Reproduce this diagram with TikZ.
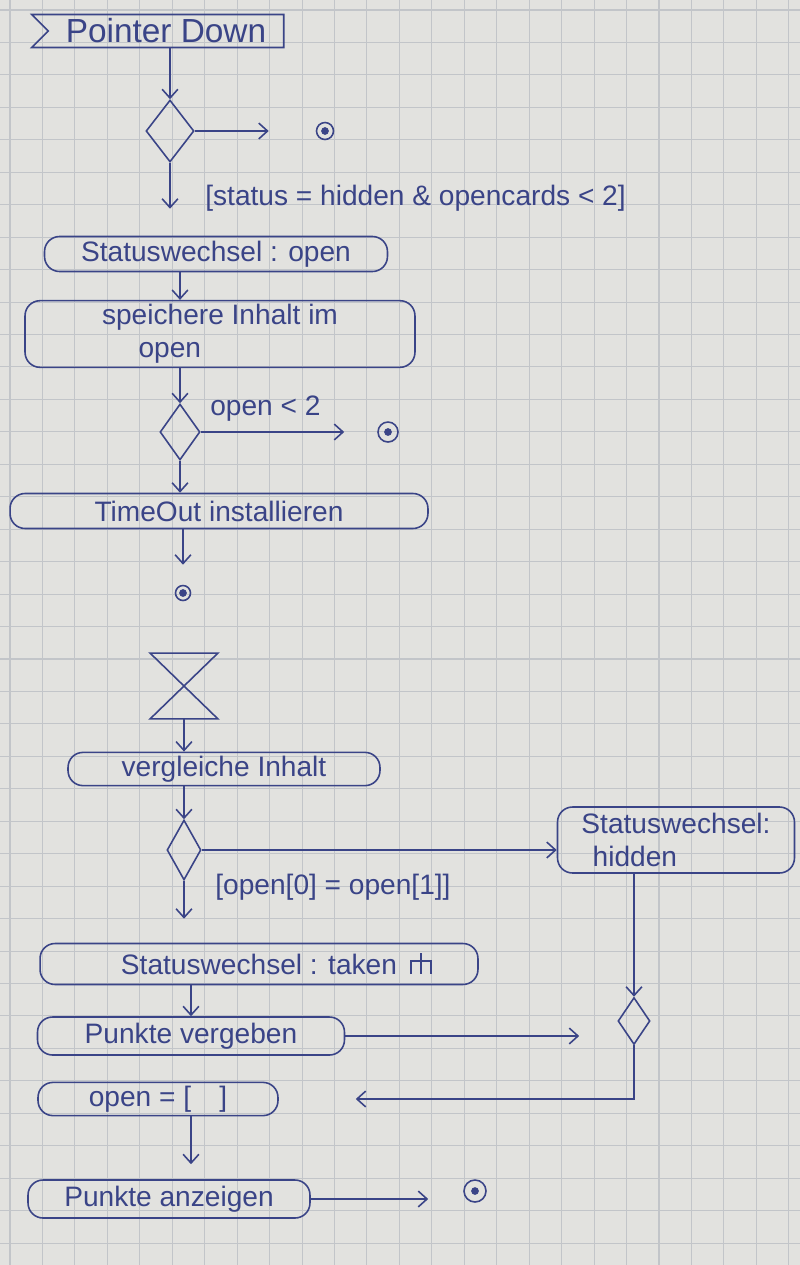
\documentclass[tikz,border=0pt]{standalone}
\usepackage{fontspec}
\setmainfont{Liberation Sans}
\usetikzlibrary{shapes.geometric,shapes.symbols,arrows.meta}
\definecolor{ink}{RGB}{58,68,135}
\definecolor{paper}{RGB}{226,226,223}
\definecolor{gridgray}{RGB}{194,197,201}

\begin{document}
\begin{tikzpicture}[x=0.02cm,y=-0.02cm,
  >={Straight Barb[length=5pt,width=9pt]},
  act/.style={rectangle, draw=ink, line width=0.9pt, rounded corners=0.3cm, text=ink, font=\fontsize{16}{19}\selectfont, inner sep=2pt},
  choice/.style={diamond, draw=ink, line width=0.9pt, inner sep=0pt},
  endnode/.style={circle, draw=ink, line width=0.9pt, inner sep=0pt, path picture={\fill[ink] (path picture bounding box.center) circle (2.2pt);}},
  flow/.style={->, draw=ink, line width=0.9pt},
  guard/.style={text=ink, font=\fontsize{16}{19}\selectfont, inner sep=0pt, anchor=west},
  gridline/.style={gridgray, line width=0.6pt}]

 \useasboundingbox (0,0) rectangle (800,1265);
 \fill[paper] (0,0) rectangle (800,1265);
 \foreach \k in {0,...,24}
   \draw[gridline] (10+32.45*\k,0) -- (10+32.45*\k,1265);
 \foreach \k in {0,...,38}
   \draw[gridline] (0,10+32.45*\k) -- (800,10+32.45*\k);

 % signal + first choice
 \node[signal, signal from=west, signal to=nowhere, draw=ink, line width=0.9pt, text=ink,
       font=\fontsize{19}{22}\selectfont, minimum width=5.04cm, minimum height=0.66cm, inner sep=0pt]
       (pd) at (166,31) {Pointer Down};
 \node[choice, minimum width=0.96cm, minimum height=1.24cm] (d1) at (170,131) {};
 \node[endnode, minimum size=0.34cm] (f1) at (325,131) {};

 \node[act, minimum width=6.86cm, minimum height=0.7cm] (st1) at (216,254) {Statuswechsel : open};
 \node[act, minimum width=7.8cm, minimum height=1.32cm, align=left] (sp) at (220,334) {speichere Inhalt im\\\hspace{1.3em}open};

 \node[choice, minimum width=0.8cm, minimum height=1.12cm] (d2) at (180,432) {};
 \node[endnode, minimum size=0.4cm] (f2) at (388,432) {};

 \node[act, minimum width=8.36cm, minimum height=0.7cm] (to) at (219,511) {TimeOut installieren};
 \node[endnode, minimum size=0.3cm] (f3) at (183,593) {};

 % time event
 \node[minimum width=1.34cm, minimum height=1.3cm, inner sep=0pt] (hg) at (184,686) {};
 \draw[ink, line width=0.9pt] (hg.north west) -- (hg.north east) -- (hg.south west) -- (hg.south east) -- cycle;

 \node[act, minimum width=6.24cm, minimum height=0.66cm] (vi) at (224,769) {vergleiche Inhalt};
 \node[choice, minimum width=0.68cm, minimum height=1.2cm] (d3) at (184,850) {};
 \node[act, minimum width=4.74cm, minimum height=1.32cm, align=left] (sh) at (676,840) {Statuswechsel:\\\hspace{0.4em}hidden};

 \node[act, minimum width=8.76cm, minimum height=0.82cm] (stt) at (259,964) {Statuswechsel : taken\hspace{2.2cm}};
 \draw[ink, line width=0.9pt] ([shift={(-58,-11)}]stt.east) -- ++(0,21)
   ([shift={(-68,10)}]stt.east) -- ++(0,-13) -- ++(20,0) -- ++(0,13);

 \node[act, minimum width=6.14cm, minimum height=0.76cm] (pv) at (191,1036) {Punkte vergeben};
 \node[choice, minimum width=0.64cm, minimum height=0.94cm] (d4) at (634,1021) {};
 \node[act, minimum width=4.8cm, minimum height=0.64cm] (op) at (158,1099) {open = [\hspace{1em}]\hspace{1.2cm}};
 \node[act, minimum width=5.64cm, minimum height=0.76cm] (pa) at (169,1199) {Punkte anzeigen};
 \node[endnode, minimum size=0.44cm] (f4) at (475,1191) {};

 % guards
 \node[guard] (g1) at (205,198) {[status = hidden \& opencards < 2]};
 \node[guard] (g2) at (210,409) {open < 2};
 \node[guard] (g3) at (215,887) {[open[0] = open[1]]};

 % flows
 \draw[flow] (pd.south -| d1) -- (d1.north);
 \draw[flow, shorten >=0.94cm] (d1.east) -- (f1.west);
 \draw[flow, shorten >=0.54cm] (d1.south) -- (st1.north -| d1);
 \draw[flow] (st1.south -| d2) -- (sp.north -| d2);
 \draw[flow] (sp.south -| d2) -- (d2.north);
 \draw[flow, shorten >=0.66cm] (d2.east) -- (f2.west);
 \draw[flow] (d2.south) -- (to.north -| d2);
 \draw[flow, shorten >=0.4cm] (to.south -| f3) -- (f3.north);
 \draw[flow] (hg.south) -- (vi.north -| hg);
 \draw[flow] (vi.south -| d3) -- (d3.north);
 \draw[flow] (d3.east) -- (d3.east -| sh.west);
 \draw[flow, shorten >=0.48cm] (d3.south) -- (stt.north -| d3);
 \draw[flow] (stt.south -| pv) -- (pv.north);
 \draw[flow, shorten >=0.76cm] (pv.east) -- (pv.east -| d4.west);
 \draw[flow] (sh.south -| d4) -- (d4.north);
 \draw[flow, shorten >=1.54cm] (d4.south) |- (op.east);
 \draw[flow, shorten >=0.3cm] (op.south -| pv) -- (pa.north -| pv);
 \draw[flow, shorten >=0.7cm] (pa.east) -- (pa.east -| f4.west);
\end{tikzpicture}
\end{document}
